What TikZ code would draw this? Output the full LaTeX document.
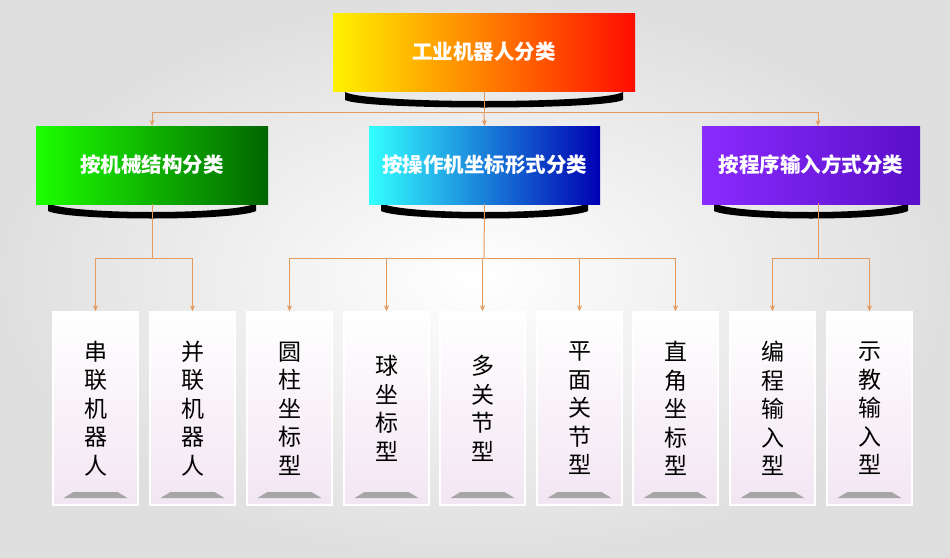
\documentclass[tikz,border=0pt]{standalone}
\usepackage{fontspec}
\newfontfamily\cjk{Noto Sans CJK SC}
\usetikzlibrary{arrows.meta}
\definecolor{linkc}{HTML}{E39A5E}
\definecolor{purpA}{HTML}{8A2BFF}
\definecolor{purpB}{HTML}{5A0FC8}
\tikzset{
  head/.style={minimum height=78pt,inner sep=0pt,font=\cjk\bfseries\fontsize{20.5}{24}\selectfont,text=white},
  leaf/.style={draw=white,line width=1.5pt,minimum width=85pt,minimum height=193pt,inner sep=0pt,
    top color=white,bottom color=violet!10,font=\cjk\fontsize{23}{28.5}\selectfont,align=center},
  link/.style={draw=linkc,line width=1pt},
  arr/.style={link,-{Stealth[length=6pt,width=5pt]}}
}
\newcommand\hshadow[3]{\fill[black] (#1,#3) .. controls (#1+20,#3+12) and (#2-20,#3+12) .. (#2,#3) -- (#2,#3+8)
  .. controls (#2-20,#3+18) and (#1+20,#3+18) .. (#1,#3+8) -- cycle;}

\begin{document}
\begin{tikzpicture}[x=1pt,y=-1pt]
\useasboundingbox[inner color=white,outer color=gray!25] (0,0) rectangle (950,557);
% header boxes
\hshadow{345}{623}{92}
\hshadow{48}{256}{203}
\hshadow{381}{588}{203}
\hshadow{714}{908}{203}
\node[head,minimum width=302pt,left color=yellow!90!orange,right color=red!90!orange,middle color=orange] (root) at (484,52) {工业机器人分类};
\node[head,minimum width=232pt,left color=green!85!lime,right color=green!40!black] (mech) at (152,165) {按机械结构分类};
\node[head,minimum width=231pt,left color=cyan!80!white,right color=blue!70!black] (coord) at (484.5,165) {按操作机坐标形式分类};
\node[head,minimum width=218pt,left color=purpA,right color=purpB] (prog) at (811,165) {按程序输入方式分类};
% leaves
\foreach \x/\t/\n in {95.5/串\\联\\机\\器\\人/l1,192.5/并\\联\\机\\器\\人/l2,289.5/圆\\柱\\坐\\标\\型/l3,
  386.5/球\\坐\\标\\型/l4,482.5/多\\关\\节\\型/l5,579.5/平\\面\\关\\节\\型/l6,675.5/直\\角\\坐\\标\\型/l7,
  772.5/编\\程\\输\\入\\型/l8,869.5/示\\教\\输\\入\\型/l9}{
  \node[leaf] (\n) at (\x,408.5) {\t};
  \fill[gray!70] (\x-32,498) -- (\x-22,492) -- (\x+22,492) -- (\x+32,498) -- cycle;
}
% connectors
\coordinate (r1) at (484,112);
\draw[link] (root.south) -- (r1);
\draw[link] (152,112) -- (818,112);
\draw[arr] (152,112) -- (mech.north);
\draw[arr] (r1) -- (coord.north);
\draw[arr] (818,112) -- (818,126);
\draw[link] (mech.south) -- (152,258);
\draw[link] (coord.south) -- (484,258);
\draw[link] (818,203) -- (818,258);
\draw[link] (95.5,258) -- (192.5,258);
\draw[link] (289.5,258) -- (675.5,258);
\draw[link] (772.5,258) -- (869.5,258);
\foreach \n in {l1,l2,l3,l4,l5,l6,l7,l8,l9}
  \draw[arr] (\n.north |- 0,258) -- (\n.north);
\end{tikzpicture}
\end{document}
